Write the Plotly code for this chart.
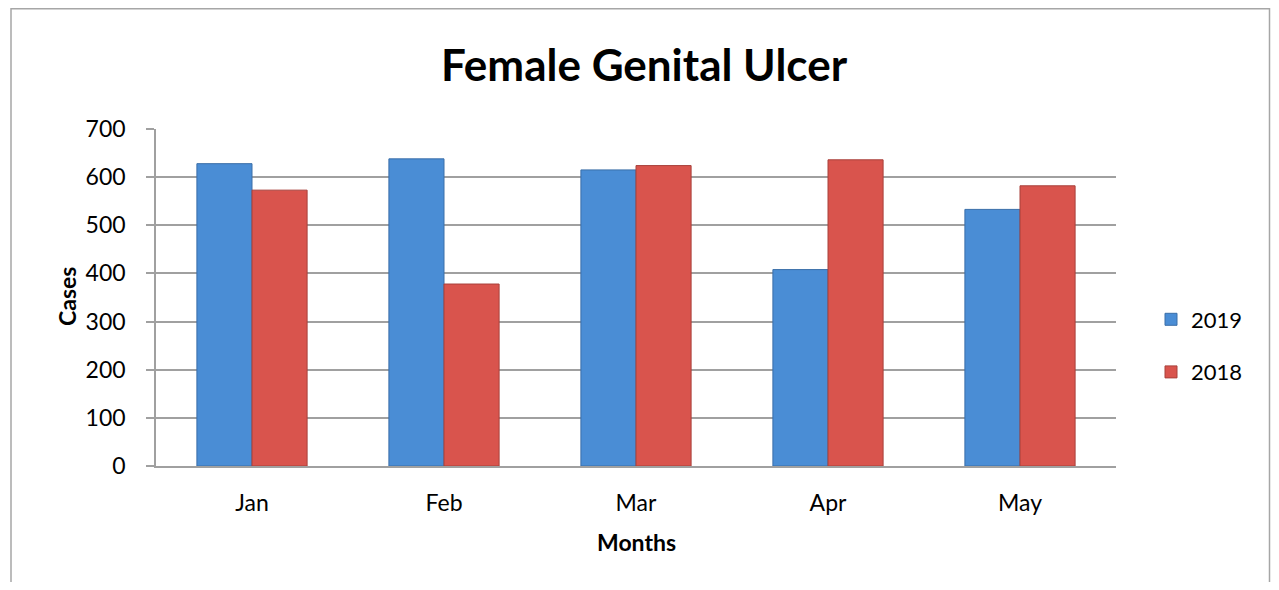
import plotly.graph_objects as go

months = ["Jan", "Feb", "Mar", "Apr", "May"]
cases_2019 = [628, 638, 615, 408, 533]
cases_2018 = [573, 378, 624, 636, 582]

FONT = "Lato"
OFF = 8  # page body margin
W, H = 1279 - 2 * OFF, 590 - 2 * OFF
L, R, T, B = 156 - OFF, 1116 - OFF, 129 - OFF, 466 - OFF
pw, ph = R - L, B - T


def px(x):
    return (x - OFF - L) / pw


def py(y):
    return (B - (y - OFF)) / ph


fig = go.Figure()
fig.add_trace(go.Bar(
    name="2019", x=months, y=cases_2019, legendgroup="a",
    marker=dict(color="#4A8DD5", line=dict(color="#3A6EA8", width=1)),
))
fig.add_trace(go.Bar(
    name="2018", x=months, y=cases_2018, legendgroup="b",
    marker=dict(color="#D9544D", line=dict(color="#A8403B", width=1)),
))

fig.add_shape(type="rect", xref="paper", yref="paper",
              x0=px(11), x1=px(1269.5), y0=py(660), y1=(B - 0.8) / ph,
              line=dict(color="#A6A6A6", width=1.5), layer="below")

fig.add_annotation(text="<b>Cases</b>", xref="paper", yref="paper",
                   x=px(67), y=py(297), textangle=-90, showarrow=False,
                   xanchor="center", yanchor="middle",
                   font=dict(family=FONT, size=23, color="black"))
fig.add_annotation(text="<b>Months</b>", xref="paper", yref="paper",
                   x=px(636), y=py(542), showarrow=False,
                   xanchor="center", yanchor="middle",
                   font=dict(family=FONT, size=23, color="black"))

fig.update_layout(
    width=W, height=H,
    margin=dict(l=L, r=W - R, t=T, b=H - B, autoexpand=False),
    paper_bgcolor="white", plot_bgcolor="white",
    font=dict(family=FONT, color="black", size=23),
    title=dict(text="<b>Female Genital Ulcer</b>", x=(644 - OFF) / W, xanchor="center",
               xref="container", yref="container", y=1 - (66 - OFF) / H, yanchor="middle",
               font=dict(family=FONT, size=44, color="black")),
    barmode="group", bargap=0.426, bargroupgap=0,
    showlegend=True,
    legend=dict(x=(1143 - L) / pw, xanchor="left", y=py(346), yanchor="middle",
                font=dict(family=FONT, size=22), tracegroupgap=21,
                traceorder="grouped", itemwidth=30, bgcolor="rgba(0,0,0,0)"),
    xaxis=dict(showline=True, linecolor="#A0A0A0", linewidth=1.5,
               ticks="", showgrid=False, ticklabelstandoff=16,
               tickfont=dict(family=FONT, size=23)),
    yaxis=dict(range=[0, 700], dtick=100, showline=True, linecolor="#A0A0A0", linewidth=1.5,
               ticks="outside", ticklen=8, tickcolor="#A0A0A0", tickwidth=1.5,
               showgrid=True, gridcolor="#A0A0A0", gridwidth=1.5, zeroline=False,
               ticklabelstandoff=16,
               tickfont=dict(family=FONT, size=23)),
)

fig.write_html("out.html")
